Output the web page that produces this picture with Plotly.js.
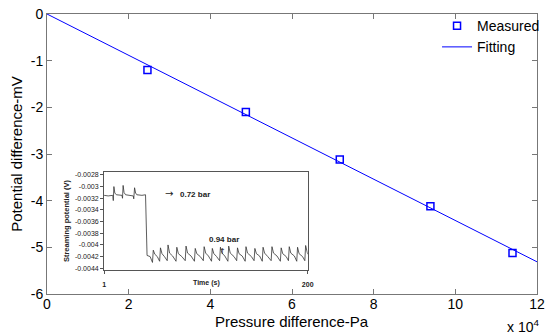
<!DOCTYPE html>
<html>
<head>
<meta charset="utf-8">
<script src="https://cdn.plot.ly/plotly-3.0.1.min.js"></script>
<style>html,body{margin:0;padding:0;background:#fff;}#chart{width:549px;height:336px;}</style>
</head>
<body>
<div id="chart"></div>
<script>
// Main chart data
var pressurePa = [24600, 48700, 71700, 93900, 114000];
var potentialMv = [-1.20, -2.10, -3.12, -4.12, -5.12];
var fitPa = [0, 120000];
var fitMv = [0, -5.31];
var xTickVals = [0, 20000, 40000, 60000, 80000, 100000, 120000];
var xTickText = ['0', '2', '4', '6', '8', '10', '12'];
var yTickVals = [0, -1, -2, -3, -4, -5, -6];
var yTickText = ['0', '-1', '-2', '-3', '-4', '-5', '-6'];

// Inset data (streaming potential vs time)
var insetT = [1, 5, 9.5, 10, 10.6, 11.5, 13, 18.5, 19, 19.6, 20.5, 22, 29.5, 30, 30.8, 31.8, 33, 38, 41.5, 42, 42.5,
  43, 46, 48.3, 49.1, 50.6, 53, 55.3, 56.1, 57.6, 60, 62.7, 63.5, 65, 68, 71.3, 72.1, 73.6, 77,
  80.3, 81.1, 82.6, 86, 89.3, 90.1, 91.6, 95, 98, 98.8, 100.3, 103, 106, 106.8, 108.3, 111,
  113.9, 114.7, 116.2, 119, 122, 122.8, 124.3, 128, 130.6, 131.4, 132.9, 136, 138.9, 139.7, 141.2, 145,
  147.6, 148.4, 149.9, 153, 155.6, 156.4, 157.9, 161, 164.3, 165.1, 166.6, 170, 173.3, 174.1, 175.6, 179,
  181.2, 182.0, 183.5, 187, 189.3, 190.1, 191.6, 195, 197.2, 198.0, 199.5, 200];
var insetV = [-0.00315, -0.00316, -0.00315, -0.00324, -0.00300, -0.00311, -0.00314, -0.00315, -0.00320, -0.00298, -0.00310, -0.00314, -0.00316, -0.00321, -0.00302, -0.00311, -0.00314, -0.00315, -0.00314, -0.00372, -0.00418,
  -0.00418, -0.00420, -0.00430, -0.00409, -0.00416, -0.00420, -0.00428, -0.00405, -0.00415, -0.00420, -0.00427, -0.00400, -0.00414, -0.00419, -0.00428, -0.00404, -0.00415, -0.00420,
  -0.00427, -0.00402, -0.00414, -0.00419, -0.00428, -0.00406, -0.00415, -0.00420, -0.00427, -0.00403, -0.00414, -0.00419, -0.00428, -0.00406, -0.00415, -0.00420,
  -0.00427, -0.00404, -0.00414, -0.00419, -0.00428, -0.00402, -0.00414, -0.00420, -0.00427, -0.00405, -0.00415, -0.00419, -0.00428, -0.00403, -0.00414, -0.00420,
  -0.00427, -0.00406, -0.00415, -0.00419, -0.00428, -0.00404, -0.00414, -0.00420, -0.00427, -0.00403, -0.00414, -0.00419, -0.00428, -0.00405, -0.00415, -0.00420,
  -0.00427, -0.00403, -0.00414, -0.00419, -0.00428, -0.00404, -0.00415, -0.00420, -0.00427, -0.00401, -0.00413, -0.00416];
var insetYTickVals = [-0.0028, -0.003, -0.0032, -0.0034, -0.0036, -0.0038, -0.004, -0.0042, -0.0044];
var insetYTickText = ['-0.0028', '-0.003', '-0.0032', '-0.0034', '-0.0036', '-0.0038', '-0.004', '-0.0042', '-0.0044'];
var insetXTickVals = [1, 200];
var insetXTickText = ['<b>1</b>', '<b>200</b>'];

var traces = [
  {x: pressurePa, y: potentialMv, type: 'scatter', mode: 'markers', name: 'Measured',
   marker: {symbol: 'square-open', size: 7, color: '#0000ff', line: {width: 1.5, color: '#0000ff'}},
   xaxis: 'x', yaxis: 'y'},
  {x: fitPa, y: fitMv, type: 'scatter', mode: 'lines', name: 'Fitting',
   line: {color: '#0000ff', width: 1}, xaxis: 'x', yaxis: 'y'},
  {x: insetT, y: insetV, type: 'scatter', mode: 'lines', showlegend: false,
   line: {color: '#333333', width: 0.8}, xaxis: 'x2', yaxis: 'y2'}
];

var fam = 'Liberation Sans, Arial, sans-serif';
var mainFont = {family: fam, size: 14, color: '#000'};
var smallFont = {family: fam, size: 7, color: '#222'};
var noteFont = {family: fam, size: 8, color: '#222'};

var layout = {
  width: 549, height: 336,
  margin: {l: 47, r: 4, t: 14, b: 42},
  paper_bgcolor: '#fff', plot_bgcolor: '#fff',
  font: mainFont,
  showlegend: true,
  legend: {x: 0.796, xanchor: 'left', y: 1.014, yanchor: 'top', bgcolor: 'rgba(255,255,255,0)',
           borderwidth: 0, font: {family: fam, size: 14, color: '#000'},
           itemwidth: 30, tracegroupgap: 0},
  xaxis: {domain: [0, 1], range: [0, 120000], tickvals: xTickVals, ticktext: xTickText,
          ticks: 'inside', ticklen: 5, tickcolor: '#777', showline: true, linecolor: '#777', linewidth: 1,
          mirror: 'ticks', showgrid: false, zeroline: false, tickfont: mainFont, ticklabelstandoff: -3},
  yaxis: {domain: [0, 1], range: [-6, 0], tickvals: yTickVals, ticktext: yTickText,
          ticks: 'inside', ticklen: 5, tickcolor: '#777', showline: true, linecolor: '#777', linewidth: 1,
          mirror: 'ticks', showgrid: false, zeroline: false, tickfont: mainFont,
          title: {text: 'Potential difference-mV', font: {family: fam, size: 15, color: '#000'}, standoff: 4}},
  xaxis2: {domain: [0.1165, 0.532], anchor: 'y2', range: [1, 200], tickvals: insetXTickVals, ticktext: insetXTickText,
           ticks: 'outside', ticklen: 3, tickcolor: '#555', showline: true, linecolor: '#555', linewidth: 1,
           mirror: true, showgrid: false, zeroline: false, tickfont: smallFont, ticklabelstandoff: 5},
  yaxis2: {domain: [0.0857, 0.4357], anchor: 'x2', range: [-0.00443, -0.00275], tickvals: insetYTickVals, ticktext: insetYTickText,
           ticks: 'outside', ticklen: 3, tickcolor: '#555', showline: true, linecolor: '#555', linewidth: 1,
           mirror: true, showgrid: false, zeroline: false, tickfont: smallFont,
           title: {text: '<b>Streaming potential (V)</b>', font: {family: fam, size: 7.5, color: '#222'}, standoff: 4}},
  annotations: [
    {xref: 'paper', yref: 'paper', x: 0.5, y: -0.099, xanchor: 'center', yanchor: 'middle',
     text: 'Pressure difference-Pa', showarrow: false, font: {family: fam, size: 15, color: '#000'}},
    {xref: 'paper', yref: 'paper', x: 1.008, y: -0.114, xanchor: 'right', yanchor: 'middle',
     text: 'x 10<sup>4</sup>', showarrow: false, font: {family: fam, size: 14, color: '#000'}},
    {xref: 'x2', yref: 'paper', x: 101, y: 0.039, xanchor: 'center', yanchor: 'middle',
     text: '<b>Time (s)</b>', showarrow: false, font: smallFont},
    {xref: 'x2', yref: 'y2', x: 73, y: -0.00314, xanchor: 'left', yanchor: 'middle',
     text: '<b>0.72 bar</b>', showarrow: false, font: noteFont},
    {xref: 'x2', yref: 'y2', x: 58.5, y: -0.00312, xanchor: 'left', yanchor: 'middle',
     text: '→', showarrow: false, font: {family: 'DejaVu Sans, sans-serif', size: 10, color: '#222'}},
    {xref: 'x2', yref: 'y2', x: 118, y: -0.00391, xanchor: 'center', yanchor: 'middle',
     text: '<b>0.94 bar</b>', showarrow: false, font: noteFont},
    {xref: 'x2', yref: 'y2', x: 116.5, y: -0.00411, xanchor: 'center', yanchor: 'middle',
     text: '↑', showarrow: false, font: {family: 'DejaVu Sans, sans-serif', size: 8, color: '#222'}}
  ]
};

Plotly.newPlot('chart', traces, layout, {displayModeBar: false, staticPlot: true});
</script>
</body>
</html>
